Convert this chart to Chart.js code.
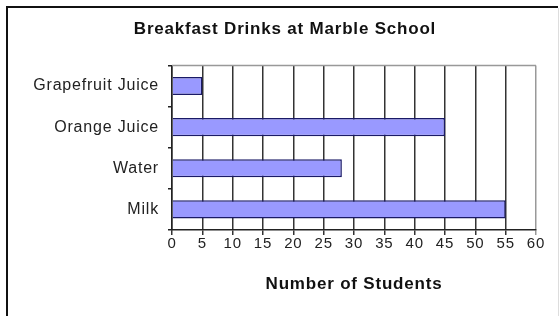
<!DOCTYPE html>
<html>
<head>
<meta charset="utf-8">
<title>Breakfast Drinks at Marble School</title>
<script src="https://cdn.jsdelivr.net/npm/chart.js@4/dist/chart.umd.min.js"></script>
<style>
  html, body {
    margin: 0;
    padding: 0;
    background: #ffffff;
  }
  canvas {
    display: block;
  }
</style>
</head>
<body>
<canvas id="drinksChart" width="560" height="316"></canvas>
<script>

const drinks = ["Grapefruit Juice", "Orange Juice", "Water", "Milk"];

const students = [5, 45, 28, 55];

const xTicks = [0, 5, 10, 15, 20, 25, 30, 35, 40, 45, 50, 55, 60];

const fontFamily = "'Liberation Sans', Arial, Helvetica, sans-serif";

// frame round the whole picture and the light top edge of the plot
const framePlugin = {

  id: "frame",

  afterLayout(chart) {
    // let the long category labels use the space left of the axis box
    chart.scales.y.left = 10;
  },

  beforeDraw(chart) {
    // the original text is set a little loose
    chart.ctx.letterSpacing = "0.8px";
  },

  afterDraw(chart) {

    const ctx = chart.ctx;

    const area = chart.chartArea;

    ctx.save();

    ctx.strokeStyle = "#999999";
    ctx.lineWidth = 1.5;
    ctx.beginPath();
    ctx.moveTo(area.left, area.top);
    ctx.lineTo(area.right, area.top);
    ctx.stroke();

    ctx.strokeStyle = "#111111";
    ctx.lineWidth = 2;
    ctx.beginPath();
    ctx.moveTo(7, 316);
    ctx.lineTo(7, 7);
    ctx.lineTo(558, 7);
    ctx.stroke();

    ctx.strokeStyle = "#dddddd";
    ctx.lineWidth = 1;
    ctx.beginPath();
    ctx.moveTo(558.5, 8);
    ctx.lineTo(558.5, 316);
    ctx.stroke();

    ctx.restore();

  }

};

new Chart(document.getElementById("drinksChart"), {

  type: "bar",

  data: {

    labels: drinks,

    datasets: [{

      label: "Number of Students",

      data: students,

      backgroundColor: "#9999ff",

      borderColor: "#1a1a66",

      borderWidth: 1.5,

      categoryPercentage: 1,

      barPercentage: 0.44

    }]

  },

  options: {

    indexAxis: "y",

    responsive: false,

    animation: false,

    layout: {
      padding: { left: 34, right: 24, top: 0, bottom: 0 }
    },

    plugins: {

      legend: { display: false },

      tooltip: { enabled: false },

      title: {
        display: true,
        text: "Breakfast Drinks at Marble School",
        color: "#111111",
        font: { family: fontFamily, size: 17, weight: "bold" },
        padding: { top: 19, bottom: 26 }
      }

    },

    scales: {

      x: {

        min: 0,

        max: 60,

        afterBuildTicks(scale) {
          scale.ticks = xTicks.map(v => ({ value: v }));
        },

        afterFit(scale) {
          scale.height = 86;
        },

        ticks: {
          color: "#222222",
          padding: 0,
          maxRotation: 0,
          font: { family: fontFamily, size: 15 }
        },

        grid: {
          color: ctx => ctx.index === xTicks.length - 1 ? "#999999" : "#333333",
          lineWidth: 1.5,
          tickLength: 5
        },

        border: {
          color: "#222222",
          width: 1.5
        },

        title: {
          display: true,
          text: "Number of Students",
          color: "#111111",
          font: { family: fontFamily, size: 17, weight: "bold" },
          padding: { top: 0, bottom: 21 }
        }

      },

      y: {

        afterFit(scale) {
          scale.width = 138;
        },

        ticks: {
          color: "#222222",
          padding: 9,
          font: { family: fontFamily, size: 16 }
        },

        grid: {
          drawOnChartArea: false,
          color: "#222222",
          lineWidth: 1.5,
          tickLength: 4
        },

        border: {
          color: "#222222",
          width: 1.5
        }

      }

    }

  },

  plugins: [framePlugin]

});

</script>
</body>
</html>
